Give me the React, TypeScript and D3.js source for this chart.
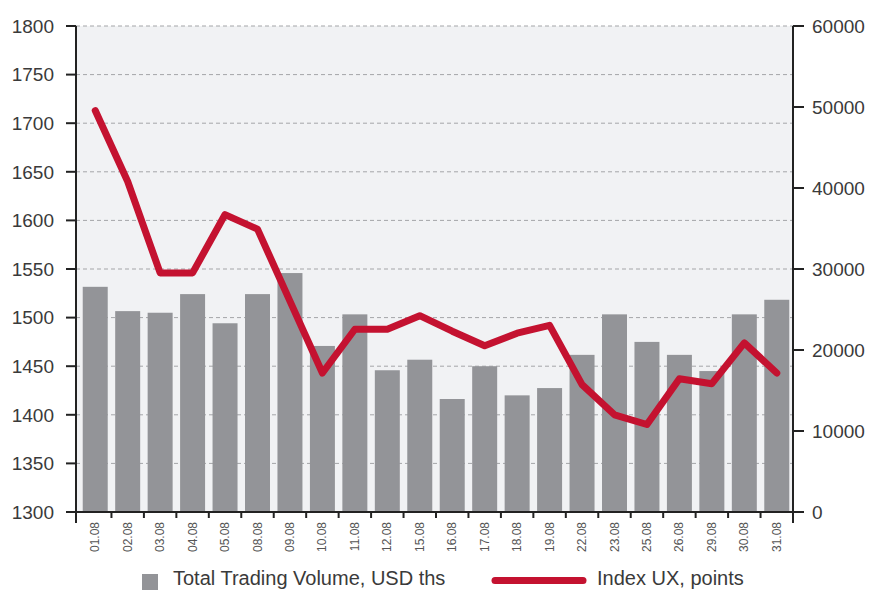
import React, { useEffect, useRef } from 'react';
import * as d3 from 'd3';

const dates = ['01.08', '02.08', '03.08', '04.08', '05.08', '08.08', '09.08', '10.08', '11.08', '12.08', '15.08',
  '16.08', '17.08', '18.08', '19.08', '22.08', '23.08', '25.08', '26.08', '29.08', '30.08', '31.08'];
const volume = [27800, 24800, 24600, 26900, 23300, 26900, 29500, 20500, 24400, 17500, 18800,
  13950, 18000, 14400, 15300, 19400, 24400, 21000, 19400, 17400, 24400, 26200];
const indexUX = [1713, 1640, 1546, 1546, 1606, 1591, 1517, 1443, 1488, 1488, 1502,
  1486, 1471, 1484, 1492, 1431, 1400, 1390, 1437, 1432, 1474, 1443];
const leftTicks = [1300, 1350, 1400, 1450, 1500, 1550, 1600, 1650, 1700, 1750, 1800];
const rightTicks = [0, 10000, 20000, 30000, 40000, 50000, 60000];

const App: React.FC = () => {
  const ref = useRef(null);

  useEffect(() => {
    if (!ref.current) return;
    const svg = d3.select(ref.current);
    svg.selectAll('*').remove();

    const left = 76, right = 793, top = 26, bottom = 512;
    const font = '"Liberation Sans", Arial, sans-serif';

    const x = d3.scaleBand().domain(dates).range([79, right]).paddingInner(0.23).paddingOuter(0.115);
    const yL = d3.scaleLinear().domain([1300, 1800]).range([bottom, top]);
    const yR = d3.scaleLinear().domain([0, 60000]).range([bottom, top]);

    // plot background
    svg.append('rect')
      .attr('x', left).attr('y', top)
      .attr('width', right - left).attr('height', bottom - top)
      .attr('fill', '#f1f2f4');

    // grid
    svg.selectAll('line.grid')
      .data(leftTicks.slice(1))
      .enter()
      .append('line')
      .attr('x1', left).attr('x2', right)
      .attr('y1', d => yL(d)).attr('y2', d => yL(d))
      .attr('stroke', '#a4a5a8')
      .attr('stroke-width', 1)
      .attr('stroke-dasharray', '4,3');

    // bars
    svg.selectAll('rect.bar')
      .data(volume)
      .enter()
      .append('rect')
      .attr('x', (d, i) => x(dates[i]) as number)
      .attr('width', x.bandwidth())
      .attr('y', d => yR(d))
      .attr('height', d => bottom - yR(d))
      .attr('fill', '#939498');

    // line
    const line = d3.line<number>()
      .x((d, i) => (x(dates[i]) as number) + x.bandwidth() / 2)
      .y(d => yL(d));
    svg.append('path')
      .attr('d', line(indexUX) as string)
      .attr('fill', 'none')
      .attr('stroke', '#c41230')
      .attr('stroke-width', 7)
      .attr('stroke-linejoin', 'round')
      .attr('stroke-linecap', 'round');

    const axisColor = '#222';
    // axes lines
    svg.append('line').attr('x1', left).attr('x2', left).attr('y1', top).attr('y2', 523)
      .attr('stroke', axisColor).attr('stroke-width', 2);
    svg.append('line').attr('x1', right).attr('x2', right).attr('y1', top).attr('y2', 523)
      .attr('stroke', axisColor).attr('stroke-width', 2);
    svg.append('line').attr('x1', 66).attr('x2', 803).attr('y1', bottom).attr('y2', bottom)
      .attr('stroke', axisColor).attr('stroke-width', 2);

    // left ticks + labels
    leftTicks.forEach(t => {
      svg.append('line').attr('x1', 66).attr('x2', left).attr('y1', yL(t)).attr('y2', yL(t))
        .attr('stroke', axisColor).attr('stroke-width', 2);
      svg.append('text').attr('x', 54).attr('y', yL(t)).attr('dy', '0.36em')
        .attr('text-anchor', 'end').attr('font-family', font).attr('font-size', 19)
        .attr('fill', '#3a3a3a').text(t);
    });

    // right ticks + labels
    rightTicks.forEach(t => {
      svg.append('line').attr('x1', right).attr('x2', 804).attr('y1', yR(t)).attr('y2', yR(t))
        .attr('stroke', axisColor).attr('stroke-width', 2);
      svg.append('text').attr('x', 812).attr('y', yR(t)).attr('dy', '0.36em')
        .attr('text-anchor', 'start').attr('font-family', font).attr('font-size', 19)
        .attr('fill', '#3a3a3a').text(t);
    });

    // x ticks at band boundaries
    dates.slice(1).forEach(d => {
      const bx = (x(d) as number) - (x.step() * x.paddingInner()) / 2;
      svg.append('line').attr('x1', bx).attr('x2', bx).attr('y1', bottom).attr('y2', 518)
        .attr('stroke', axisColor).attr('stroke-width', 2);
    });

    // x labels
    dates.forEach(d => {
      const cx = (x(d) as number) + x.bandwidth() / 2;
      svg.append('text')
        .attr('transform', `translate(${cx + 4},522) rotate(-90)`)
        .attr('text-anchor', 'end')
        .attr('font-family', font).attr('font-size', 12)
        .attr('fill', '#555').text(d);
    });

    // legend
    svg.append('rect').attr('x', 142).attr('y', 574).attr('width', 16).attr('height', 16).attr('fill', '#939498');
    svg.append('text').attr('x', 173).attr('y', 585).attr('font-family', font).attr('font-size', 20)
      .attr('fill', '#3a3a3a').text('Total Trading Volume, USD ths');
    svg.append('line').attr('x1', 495).attr('x2', 583).attr('y1', 580.5).attr('y2', 580.5)
      .attr('stroke', '#c41230').attr('stroke-width', 7).attr('stroke-linecap', 'round');
    svg.append('text').attr('x', 597).attr('y', 585).attr('font-family', font).attr('font-size', 20)
      .attr('fill', '#3a3a3a').text('Index UX, points');
  }, []);

  return (
    <svg ref={ref} width={872} height={590} style={{ position: 'absolute', left: 0, top: 0 }}></svg>
  );
};

export default App;
